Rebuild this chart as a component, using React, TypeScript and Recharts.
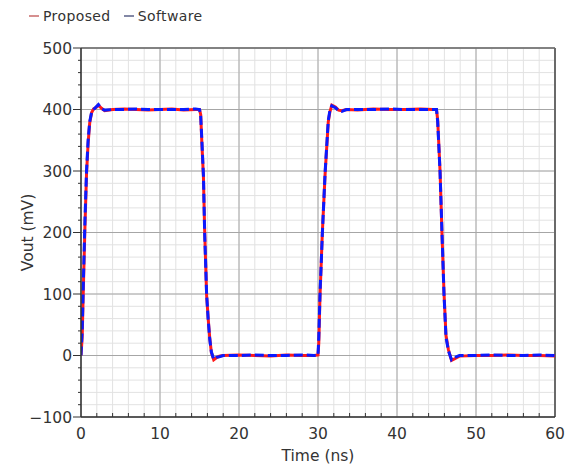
import React from 'react';
import { LineChart, Line, XAxis, YAxis, CartesianGrid, ReferenceLine, Legend } from 'recharts';

const TIME = [0, 0.15, 0.3, 0.5, 0.7, 0.9, 1.1, 1.35, 1.6, 1.9, 2.2, 2.6, 3.0, 4.0, 5.5, 7.0, 8.5, 10, 11.5, 13, 14.5,
  15.0, 15.15, 15.3, 15.5, 15.65, 15.9, 16.1, 16.3, 16.5, 16.8, 17.1, 17.5, 18, 20, 22, 24, 26, 28, 29.5,
  30.0, 30.1, 30.25, 30.55, 30.9, 31.3, 31.5, 31.75, 32.2, 32.6, 33.0, 33.6, 35, 37, 39, 41, 43, 44.5,
  45.0, 45.15, 45.45, 45.7, 45.95, 46.2, 46.5, 46.9, 47.2, 47.9, 50, 52, 54, 56, 58, 60];
const SOFTWARE = [0, 40, 120, 220, 300, 350, 380, 396, 400, 404, 408, 401, 399, 400, 400, 401, 400, 400, 400, 400, 401,
  400, 390, 350, 292, 200, 100, 58, 26, 6, -6, -3, -2, 0, 0, 1, 0, 0, 1, 0,
  0, 30, 99, 198, 298, 382, 398, 406, 403, 398, 397, 400, 400, 400, 401, 400, 400, 400,
  400, 380, 298, 198, 99, 30, 8, -7, -4, 0, 0, 1, 0, 0, 1, 0];
const PROPOSED = [0, 30, 110, 210, 295, 345, 378, 395, 401, 403, 407, 402, 398, 400, 401, 400, 399, 400, 401, 399, 400,
  400, 392, 345, 290, 205, 98, 60, 28, 5, -7, -4, -1, 0, 1, 0, -1, 1, 0, 0,
  1, 20, 95, 200, 295, 380, 396, 407, 404, 399, 398, 400, 399, 401, 400, 400, 401, 400,
  400, 383, 300, 196, 102, 33, 10, -8, -6, -1, 0, 0, 1, 0, 0, -1];

const SERIES_NAMES = ['Proposed', 'Software'];
const SERIES_COLORS = ['#ff1a1a', '#0a1aff'];
const LEGEND_COLORS = ['#c86a6a', '#5a6088'];

const X_TICKS = [0, 2, 4, 6, 8, 10, 12, 14, 16, 18, 20, 22, 24, 26, 28, 30, 32, 34, 36, 38, 40, 42, 44, 46, 48, 50, 52, 54, 56, 58, 60];
const X_MAJOR = [0, 10, 20, 30, 40, 50, 60];
const Y_TICKS = [-100, -80, -60, -40, -20, 0, 20, 40, 60, 80, 100, 120, 140, 160, 180, 200, 220, 240, 260, 280, 300, 320, 340, 360, 380, 400, 420, 440, 460, 480, 500];
const Y_MAJOR = [-100, 0, 100, 200, 300, 400, 500];

const data = TIME.map((t, i) => ({ t, proposed: PROPOSED[i], software: SOFTWARE[i] }));

const FONT = '"DejaVu Sans", sans-serif';
const TEXT_COLOR = '#333';

const YTick = (props: any) => {
  const { x, y, payload } = props;
  const v = payload.value;
  const major = v % 100 === 0;
  return (
    <g>
      <line x1={x - (major ? 8 : 3)} x2={x} y1={y} y2={y} stroke="#333" strokeWidth={1} />
      {major && (
        <text x={x - 9} y={y} dy="0.36em" textAnchor="end" fontFamily={FONT} fontSize={15.5} fill={TEXT_COLOR}>
          {v < 0 ? '\u2212' + Math.abs(v) : v}
        </text>
      )}
    </g>
  );
};

const XTick = (props: any) => {
  const { x, y, payload } = props;
  const v = payload.value;
  const major = v % 10 === 0;
  return (
    <g>
      {!major && <line x1={x} x2={x} y1={y} y2={y - 4} stroke="#333" strokeWidth={1} />}
      {major && (
        <text x={x} y={y + 11} dy="0.71em" textAnchor="middle" fontFamily={FONT} fontSize={15.5} fill={TEXT_COLOR}>
          {v}
        </text>
      )}
    </g>
  );
};

const LegendContent = () => (
  <div style={{ display: 'flex', alignItems: 'center', fontFamily: FONT, fontSize: 14, color: TEXT_COLOR, letterSpacing: 0.4, whiteSpace: 'nowrap' }}>
    {SERIES_NAMES.map((name, i) => (
      <span key={name} style={{ display: 'inline-flex', alignItems: 'center', marginRight: 12 }}>
        <svg width={12} height={10} style={{ marginRight: 3 }}>
          <line x1={1} x2={11} y1={5} y2={5} stroke={LEGEND_COLORS[i]} strokeWidth={1.5} />
        </svg>
        {name}
      </span>
    ))}
  </div>
);

const YLabel = (props: any) => {
  const vb = props.viewBox || { x: 0, y: 48, width: 81, height: 369 };
  const cx = vb.x + 27;
  const cy = vb.y + vb.height / 2;
  return (
    <text x={cx} y={cy} transform={`rotate(-90 ${cx} ${cy})`} textAnchor="middle" dy="0.36em" fontFamily={FONT} fontSize={15.5} fill={TEXT_COLOR}>
      Vout (mV)
    </text>
  );
};

export default function App() {
  return (
    <div style={{ position: 'absolute', left: 0, top: 0, background: '#fff' }}>
      <LineChart width={573} height={469} data={data} margin={{ top: 32, right: 18, bottom: 0, left: 0 }}>
        <CartesianGrid stroke="#e2e2e2" strokeWidth={1} />
        <CartesianGrid stroke="#a6a6a6" strokeWidth={1} horizontalValues={Y_MAJOR} verticalValues={X_MAJOR} />
        <XAxis
          dataKey="t"
          type="number"
          domain={[0, 60]}
          ticks={X_TICKS}
          interval={0}
          tickSize={0}
          tickMargin={0}
          tick={<XTick />}
          tickLine={false}
          axisLine={{ stroke: '#333', strokeWidth: 1.5 }}
          height={52}
          allowDataOverflow
          label={{ value: 'Time (ns)', position: 'insideBottom', offset: 8, fontFamily: FONT, fontSize: 15.5, fill: TEXT_COLOR }}
        />
        <YAxis
          type="number"
          domain={[-100, 500]}
          ticks={Y_TICKS}
          interval={0}
          tickSize={0}
          tickMargin={0}
          tick={<YTick />}
          tickLine={false}
          axisLine={{ stroke: '#333', strokeWidth: 1.5 }}
          width={81}
          allowDataOverflow
          label={{ content: (p: any) => <YLabel {...p} /> }}
        />
        <ReferenceLine y={500} stroke="#6a6a6a" strokeWidth={1.5} />
        <ReferenceLine x={60} stroke="#6a6a6a" strokeWidth={2} />
        <Legend
          layout="vertical"
          align="center"
          verticalAlign="top"
          content={<LegendContent />}
          wrapperStyle={{ left: 28, top: 8, width: 'auto' }}
        />
        <Line
          type="linear"
          dataKey="proposed"
          name={SERIES_NAMES[0]}
          stroke={SERIES_COLORS[0]}
          strokeWidth={3}
          dot={false}
          isAnimationActive={false}
        />
        <Line
          type="linear"
          dataKey="software"
          name={SERIES_NAMES[1]}
          stroke={SERIES_COLORS[1]}
          strokeWidth={3}
          strokeDasharray="9 4"
          dot={false}
          isAnimationActive={false}
        />
      </LineChart>
    </div>
  );
}
